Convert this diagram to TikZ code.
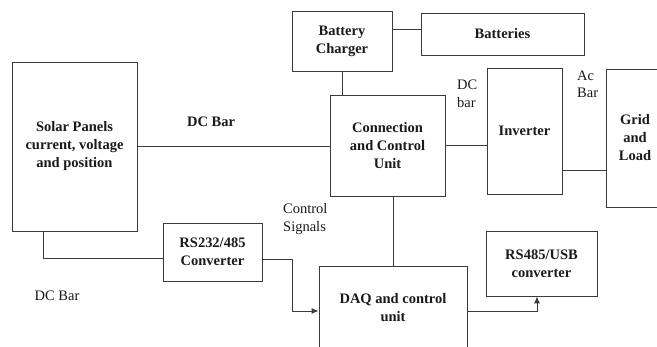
\documentclass[tikz,border=0pt]{standalone}
\usepackage{fontspec}
\setmainfont{Liberation Serif}
\usetikzlibrary{arrows.meta}
\definecolor{linec}{HTML}{3A3A3A}
\definecolor{textc}{HTML}{1A1A1A}
\tikzset{
  box/.style={draw=linec,line width=0.9pt,inner sep=0pt,align=center,text=textc,
    font=\fontsize{14.5}{18}\selectfont\bfseries},
  lbl/.style={inner sep=0pt,text=textc,font=\fontsize{14.5}{18}\selectfont},
  conn/.style={draw=linec,line width=0.9pt},
  arr/.style={conn,-{Latex[length=7pt,width=6pt]}}}
\begin{document}
\begin{tikzpicture}[x=1pt,y=-1pt]
\useasboundingbox (0,0) rectangle (657,347);
\clip (0,0) rectangle (657,347);
\fill[white] (0,0) rectangle (657,347);

\node[box,minimum width=125pt,minimum height=169pt] (solar) at (74.5,146.5) {Solar Panels\\current, voltage\\and position};
\node[box,minimum width=100pt,minimum height=60pt] (charger) at (342,41) {Battery\\Charger};
\node[box,minimum width=163pt,minimum height=42pt] (batt) at (502.5,34) {Batteries};
\node[box,minimum width=115pt,minimum height=101pt] (ccu) at (387.5,145.5) {Connection\\and Control\\Unit};
\node[box,minimum width=75pt,minimum height=126pt] (inv) at (524.5,131) {Inverter};
\node[box,minimum width=58pt,minimum height=138pt] (grid) at (635,138) {Grid\\and\\Load};
\node[box,minimum width=99pt,minimum height=58pt] (rs232) at (212.5,252) {RS232/485\\Converter};
\node[box,minimum width=148pt,minimum height=84pt] (daq) at (393,308) {DAQ and control\\unit};
\node[box,minimum width=111pt,minimum height=65pt] (rs485) at (541.5,263.5) {RS485/USB\\converter};

\node[lbl,font=\fontsize{14.5}{18}\selectfont\bfseries] (dcbar1) at (211,122) {DC Bar};
\node[lbl] (dcbar2) at (57,296) {DC Bar};
\node[lbl,anchor=west,align=left] (ctrl) at (283,219) {Control\\Signals};
\node[lbl,anchor=west,align=left] (dcbar3) at (457,94) {DC\\bar};
\node[lbl,anchor=west,align=left,font=\fontsize{14.5}{17}\selectfont] (acbar) at (577,84) {Ac\\Bar};

\coordinate (b1) at (292,311);

\draw[conn] (solar.east) -- (solar.east -| ccu.west);
\draw[conn] (ccu.east) -- (ccu.east -| inv.west);
\draw[conn] (charger.south) -- (charger.south |- ccu.north);
\draw[conn] ([yshift=12pt]charger.east) -- ([yshift=12pt]charger.east -| batt.west);
\draw[conn] ([yshift=-39pt]inv.east) -- ([yshift=-39pt]inv.east -| grid.west);
\draw[conn] (daq.north |- ccu.south) -- (daq.north);
\draw[conn] ([xshift=-31.5pt]solar.south) |- ([yshift=-6pt]rs232.west);
\draw[arr] ([yshift=-7pt]rs232.east) -| (b1) -- (b1 -| daq.west);
\draw[arr] ([yshift=-3pt]daq.east) -| ([xshift=-4.5pt]rs485.south);
\end{tikzpicture}
\end{document}
